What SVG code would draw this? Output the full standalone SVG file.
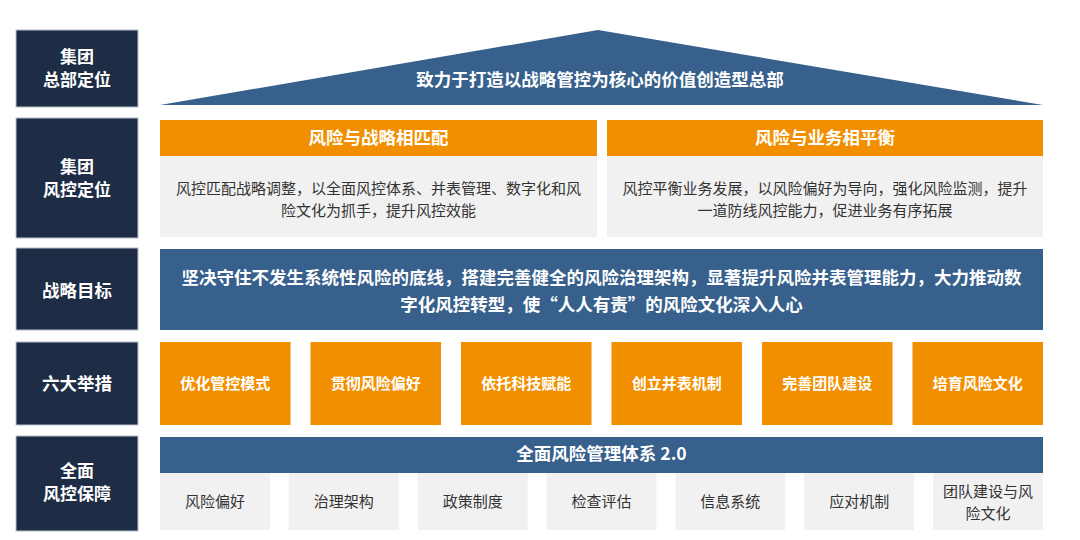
<svg xmlns="http://www.w3.org/2000/svg" width="1080" height="540" viewBox="0 0 1080 540">
<style>
.lbl{fill:#1e2d45;stroke:#b9c0cb;stroke-width:1}
.blue{fill:#37608c}
.org{fill:#f28f00}
.gray{fill:#f1f1f1}
.wb{font-family:"Microsoft YaHei","Noto Sans CJK SC",sans-serif;font-weight:bold;fill:#ffffff;text-anchor:middle}
.dk{font-family:"Microsoft YaHei","Noto Sans CJK SC",sans-serif;fill:#333333;text-anchor:middle}
.f17{font-size:17.5px}
.f17s{font-size:17px}
.f15{font-size:15px}
</style>
<rect width="1080" height="540" fill="#ffffff"/>
<g id="labels">
<g id="lbl-hq"><rect class="lbl" x="16" y="30" width="122" height="77"/><text class="wb f17s" x="77" y="63">集团</text><text class="wb f17s" x="77" y="86">总部定位</text></g>
<g id="lbl-risk"><rect class="lbl" x="16" y="118" width="122" height="120"/><text class="wb f17s" x="77" y="173">集团</text><text class="wb f17s" x="77" y="196">风控定位</text></g>
<g id="lbl-goal"><rect class="lbl" x="16" y="248" width="122" height="82"/><text class="wb f17" x="77" y="297">战略目标</text></g>
<g id="lbl-six"><rect class="lbl" x="16" y="342" width="122" height="83"/><text class="wb f17" x="77" y="390">六大举措</text></g>
<g id="lbl-guard"><rect class="lbl" x="16" y="436" width="122" height="95"/><text class="wb f17s" x="77" y="477">全面</text><text class="wb f17s" x="77" y="500">风控保障</text></g>
</g>
<g id="roof"><polygon class="blue" points="160,105 598,30 1043,105"/><text class="wb f17" x="600" y="86">致力于打造以战略管控为核心的价值创造型总部</text></g>
<g id="match">
<rect class="org" x="160" y="120" width="437" height="36"/><text class="wb f17" x="378.5" y="144">风险与战略相匹配</text>
<rect class="gray" x="160" y="156" width="437" height="81"/>
<text class="dk f15" x="378.5" y="194">风控匹配战略调整，以全面风控体系、并表管理、数字化和风</text>
<text class="dk f15" x="378.5" y="216">险文化为抓手，提升风控效能</text>
</g>
<g id="balance">
<rect class="org" x="607" y="120" width="436" height="36"/><text class="wb f17" x="825" y="144">风险与业务相平衡</text>
<rect class="gray" x="607" y="156" width="436" height="81"/>
<text class="dk f15" x="825" y="194">风控平衡业务发展，以风险偏好为导向，强化风险监测，提升</text>
<text class="dk f15" x="825" y="216">一道防线风控能力，促进业务有序拓展</text>
</g>
<g id="goal">
<rect class="blue" x="160" y="249" width="883" height="81"/>
<text class="wb f17" x="601.5" y="284">坚决守住不发生系统性风险的底线，搭建完善健全的风险治理架构，显著提升风险并表管理能力，大力推动数</text>
<text class="wb f17" x="601.5" y="311">字化风控转型，使“人人有责”的风险文化深入人心</text>
</g>
<g id="measures">
<g id="m1"><rect class="org" x="160" y="342" width="130.5" height="83"/><text class="wb f15" x="225.25" y="389">优化管控模式</text></g>
<g id="m2"><rect class="org" x="310.5" y="342" width="130.5" height="83"/><text class="wb f15" x="375.75" y="389">贯彻风险偏好</text></g>
<g id="m3"><rect class="org" x="461" y="342" width="130.5" height="83"/><text class="wb f15" x="526.25" y="389">依托科技赋能</text></g>
<g id="m4"><rect class="org" x="611.5" y="342" width="130.5" height="83"/><text class="wb f15" x="676.75" y="389">创立并表机制</text></g>
<g id="m5"><rect class="org" x="762" y="342" width="130.5" height="83"/><text class="wb f15" x="827.25" y="389">完善团队建设</text></g>
<g id="m6"><rect class="org" x="912.5" y="342" width="130.5" height="83"/><text class="wb f15" x="977.75" y="389">培育风险文化</text></g>
</g>
<g id="system">
<rect class="blue" x="160" y="437" width="883" height="36"/>
<text class="wb f17" x="601.5" y="460">全面风险管理体系 2.0</text>
<g id="s1"><rect class="gray" x="160" y="473" width="110" height="57"/><text class="dk f15" x="215" y="507">风险偏好</text></g>
<g id="s2"><rect class="gray" x="288.8" y="473" width="110" height="57"/><text class="dk f15" x="343.8" y="507">治理架构</text></g>
<g id="s3"><rect class="gray" x="417.7" y="473" width="110" height="57"/><text class="dk f15" x="472.7" y="507">政策制度</text></g>
<g id="s4"><rect class="gray" x="546.5" y="473" width="110" height="57"/><text class="dk f15" x="601.5" y="507">检查评估</text></g>
<g id="s5"><rect class="gray" x="675.3" y="473" width="110" height="57"/><text class="dk f15" x="730.3" y="507">信息系统</text></g>
<g id="s6"><rect class="gray" x="804.2" y="473" width="110" height="57"/><text class="dk f15" x="859.2" y="507">应对机制</text></g>
<g id="s7"><rect class="gray" x="933" y="473" width="110" height="57"/><text class="dk f15" x="988" y="497">团队建设与风</text><text class="dk f15" x="988" y="519">险文化</text></g>
</g>
<g id="connectors"/>
</svg>
